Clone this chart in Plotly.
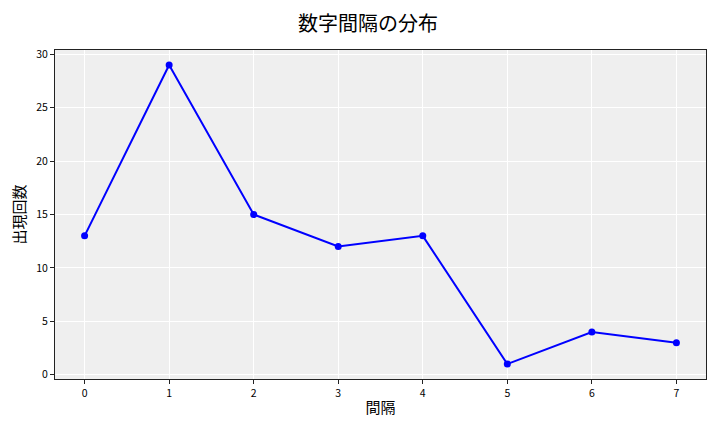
import plotly.graph_objects as go

# 間隔ごとの出現回数
intervals = [0, 1, 2, 3, 4, 5, 6, 7]
counts = [13, 29, 15, 12, 13, 1, 4, 3]
y_ticks = [0, 5, 10, 15, 20, 25, 30]

FONT = "Noto Sans CJK JP"

fig = go.Figure()

fig.add_trace(go.Scatter(
    x=intervals,
    y=counts,
    mode="lines+markers",
    line=dict(color="blue", width=2),
    marker=dict(color="blue", size=7),
    showlegend=False,
))

axis_style = dict(
    showgrid=True,
    gridcolor="white",
    gridwidth=1,
    showline=True,
    linecolor="#222222",
    linewidth=1,
    mirror=True,
    ticks="outside",
    ticklen=4,
    tickcolor="#222222",
    tickfont=dict(family=FONT, size=10.5, color="black"),
    zeroline=False,
)

# the page body adds an 8px offset, so margins are shifted to compensate
fig.update_layout(
    width=720,
    height=432,
    margin=dict(l=47, r=22, t=42, b=61),
    paper_bgcolor="white",
    plot_bgcolor="#efefef",
    font=dict(family=FONT, color="black"),
    title=dict(
        text="数字間隔の分布",
        x=0.5,
        xanchor="center",
        y=0.962,
        yanchor="middle",
        font=dict(family=FONT, size=20, color="black"),
    ),
    xaxis=dict(
        axis_style,
        range=[-0.35, 7.35],
        tickmode="array",
        tickvals=intervals,
        title=dict(text="間隔", font=dict(family=FONT, size=15), standoff=3),
    ),
    yaxis=dict(
        axis_style,
        range=[-0.4, 30.4],
        tickmode="array",
        tickvals=y_ticks,
        title=dict(text="出現回数", font=dict(family=FONT, size=15), standoff=6),
    ),
)

fig.write_html("out.html")
